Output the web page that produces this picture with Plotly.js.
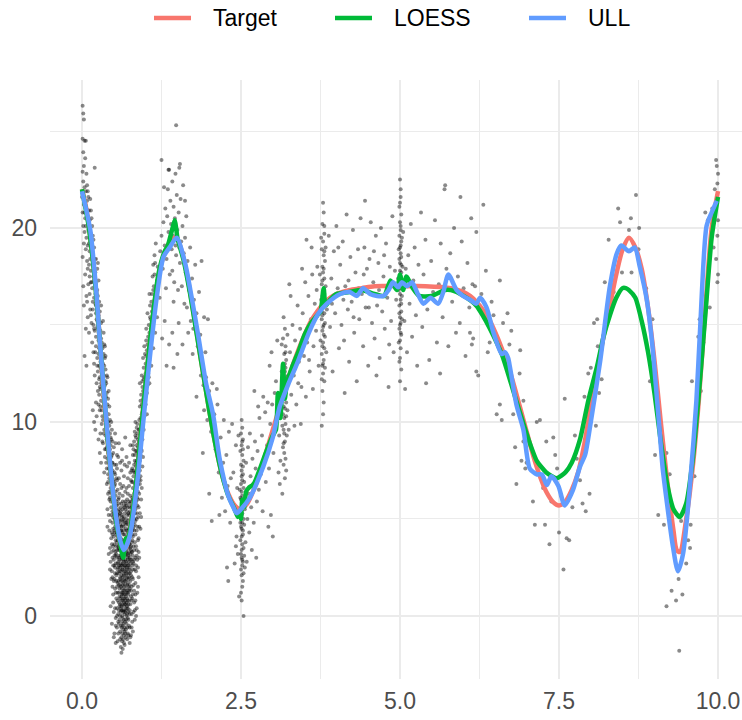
<!DOCTYPE html>
<html>
<head>
<meta charset="utf-8">
<script src="https://cdn.plot.ly/plotly-3.0.1.min.js"></script>
<style>html,body{margin:0;padding:0;background:#fff;}#chart{width:742px;height:720px;}</style>
</head>
<body>
<div id="chart"></div>
<script>
// ---- series names ----
const seriesNames = ["Target", "LOESS", "ULL"];

// ---- Target curve ----
const targetX = [0,0.05,0.1,0.15,0.2,0.25,0.3,0.35,0.4,0.45,0.5,0.55,0.6,0.65,0.7,0.75,0.8,0.85,0.9,0.95,1.0,1.05,1.1,1.15,1.2,1.25,1.3,1.35,1.4,1.45,1.5,1.55,1.6,1.65,1.7,1.75,1.8,1.85,1.9,1.95,2.0,
2.1,2.2,2.3,2.4,2.5,2.6,2.7,2.8,2.9,3.0,3.1,3.2,3.3,3.4,3.5,3.6,3.7,3.8,3.9,4.0,
4.2,4.4,4.6,5.0,5.4,5.8,
6.0,6.1,6.2,6.3,6.4,6.5,6.6,6.7,6.8,6.9,7.0,7.1,7.2,7.3,7.4,7.5,7.6,7.7,7.8,7.9,8.0,8.1,8.2,8.3,8.4,8.5,8.6,8.7,8.8,8.9,9.0,9.1,9.2,9.3,9.35,9.4,9.5,9.6,9.7,9.8,9.9,10.0];
const targetY = [22.0,21.3,20.3,19.0,17.5,15.6,13.3,11.0,9.1,7.4,5.9,4.7,3.8,3.4,3.6,4.3,5.4,6.8,8.5,10.3,12.0,13.6,15.0,16.3,17.4,18.2,18.7,19.1,19.4,19.5,19.4,19.0,18.4,17.6,16.7,15.7,14.7,13.6,12.6,11.6,10.6,
8.8,7.3,6.3,5.7,5.5,5.8,6.5,7.4,8.5,9.6,10.7,11.8,12.8,13.7,14.5,15.2,15.7,16.1,16.4,16.6,
16.8,16.9,17.0,17.0,17.0,16.9,
16.7,16.5,16.2,15.8,15.3,14.6,13.8,12.9,11.8,10.6,9.4,8.2,7.2,6.4,5.9,5.7,5.9,6.5,7.4,8.9,10.8,12.6,14.4,16.0,17.6,18.9,19.5,19.0,17.9,15.9,13.2,10.0,7.0,4.4,3.4,3.3,5.0,7.6,11.2,15.8,20.0,21.9];

// ---- LOESS curve ----
const loessX = [0,0.1,0.2,0.3,0.4,0.5,0.55,0.6,0.63,0.65,0.67,0.69,0.72,0.75,0.8,0.85,0.9,1.0,1.1,1.2,1.25,1.3,1.35,1.4,1.44,1.46,1.48,1.5,1.55,1.6,1.7,1.8,1.9,2.0,2.1,2.2,2.3,2.4,2.45,2.48,2.5,2.52,2.55,2.58,2.62,2.7,2.8,2.9,3.0,3.05,3.08,3.12,3.16,3.19,3.22,3.3,3.4,3.5,3.6,3.7,3.75,3.8,3.83,3.9,4.0,4.2,4.4,4.6,4.75,4.85,4.95,5.0,5.05,5.1,5.2,5.3,5.5,5.7,5.8,6.0,6.2,6.3,6.4,6.6,6.8,7.0,7.15,7.3,7.46,7.6,7.7,7.83,7.96,8.1,8.2,8.3,8.4,8.5,8.55,8.6,8.7,8.8,8.9,9.0,9.1,9.2,9.3,9.4,9.5,9.6,9.7,9.8,9.9,10.0];
const loessY = [22.0,20.2,17.4,13.4,9.2,5.9,4.6,3.8,3.2,3.0,3.6,4.0,4.0,4.3,5.4,6.8,8.5,12.0,15.1,17.6,18.3,18.8,19.1,19.7,20.2,20.4,20.0,19.5,18.9,18.3,16.6,14.6,12.6,10.6,8.8,7.3,6.2,5.5,5.1,5.3,5.0,6.0,5.6,6.4,6.6,6.8,7.6,8.5,9.3,9.6,11.5,10.2,13.0,11.2,12.0,12.8,13.6,14.5,15.1,15.5,15.7,16.9,16.0,16.3,16.6,16.7,16.8,16.6,16.5,17.3,16.8,17.6,16.8,17.5,16.9,16.5,16.5,16.8,16.8,16.5,16.0,15.5,14.9,13.5,11.4,9.3,8.0,7.4,7.1,7.4,7.9,9.1,11.1,12.9,14.4,15.5,16.4,16.9,16.9,16.8,16.4,15.2,13.6,11.5,9.0,6.8,5.5,5.1,5.8,8.0,11.5,15.5,19.5,21.6];

// ---- ULL curve ----
const ullX = [0,0.13,0.23,0.28,0.39,0.49,0.6,0.66,0.75,0.86,0.96,1.04,1.17,1.28,1.38,1.49,1.62,1.72,1.83,1.95,2.06,2.17,2.3,2.38,2.43,2.5,2.64,2.85,3.0,3.11,3.25,3.38,3.58,3.72,3.85,4.06,4.21,4.32,4.42,4.53,4.64,4.74,4.82,4.89,4.97,5.03,5.11,5.19,5.28,5.37,5.48,5.6,5.68,5.76,5.89,5.99,6.1,6.2,6.26,6.36,6.47,6.6,6.65,6.7,6.73,6.83,6.94,7.04,7.15,7.23,7.31,7.38,7.49,7.59,7.72,7.83,7.91,7.99,8.15,8.3,8.41,8.48,8.6,8.69,8.77,8.88,8.96,9.03,9.09,9.13,9.19,9.29,9.37,9.45,9.56,9.66,9.72,9.82,9.9,9.98];
const ullY = [21.9,19.9,16.5,14.2,9.8,6.3,3.9,3.4,4.1,6.6,9.9,12.5,16.3,18.5,19.0,19.5,18.2,16.5,14.4,12.0,10.4,8.0,6.2,5.6,5.3,5.5,6.1,7.7,9.2,10.8,12.0,13.0,14.7,15.6,16.1,16.6,16.7,16.5,16.9,16.6,16.5,16.5,16.8,17.2,16.95,17.2,17.0,17.2,16.6,16.1,16.4,16.1,16.7,17.6,16.8,16.5,16.3,16.1,16.4,15.9,14.6,13.5,13.6,13.3,12.8,10.9,9.6,7.6,7.3,7.3,6.75,7.2,6.7,5.7,6.5,7.7,8.3,9.8,13.2,17.0,18.7,19.1,18.8,19.0,18.0,16.3,14.2,11.6,9.2,7.6,6.0,3.6,2.3,3.2,6.8,11.1,14.9,20.1,20.8,21.4];

// ---- observed points, by region: [x, y] ----
const pointsStart = [[0.01,26.3],[0.02,25.9],[0.03,25.6],[0.01,24.6],[0.04,24.5],[0.06,24.5],[0.02,23.9],[0.05,23.6],[0.03,23.2],[0.01,22.9],[0.07,22.8],[0.02,22.4],[0.04,22.1],[0.00,21.6],[0.06,21.9],[0.03,21.2],[0.08,21.4],[0.01,20.8],[0.05,20.5],[0.02,20.1],[0.09,20.6],[0.04,19.8],[0.07,19.5],[0.03,19.2],[0.10,19.9],[0.06,18.9],[0.01,18.5],[0.08,18.3],[0.11,19.2],[0.12,18.8],[0.05,17.6],[0.09,17.9],[0.13,18.4],[0.02,17.0],[0.14,17.8],[0.10,17.1],[0.07,16.5],[0.15,17.2],[0.12,16.6],[0.03,16.0],[0.16,16.9],[0.18,17.5],[0.13,15.8],[0.17,16.2],[0.09,15.4],[0.19,16.4],[0.20,17.0],[0.15,15.1],[0.21,16.1],[0.11,14.6],[0.18,15.0],[0.22,15.6],[0.23,16.3],[0.20,14.7],[0.24,15.2],[0.16,14.1],[0.22,14.4],[0.25,14.8],[0.21,13.6],[0.26,14.2],[0.27,15.0],[0.24,13.3],[0.28,13.8],[0.19,13.0],[0.25,12.6],[0.29,13.1],[0.30,14.3],[0.27,12.2],[0.23,12.0],[0.31,12.7],[0.28,11.8],[0.32,12.1],[0.06,14.8],[0.04,13.4],[0.08,22.2],[0.13,21.5],[0.20,23.1],[0.12,20.4],[0.17,19.6],[0.22,18.4],[0.26,17.3],[0.07,12.9],
[0.24,14.9],[0.27,14.5],[0.30,15.1],[0.22,16.0],[0.25,16.5],[0.28,15.7],[0.18,18.0],[0.21,17.7],[0.24,17.9],[0.16,18.6],[0.19,19.0],[0.14,19.7],[0.11,20.9],[0.15,20.5],[0.09,21.9],
[0.17,10.6],[0.19,10.0],[0.21,9.6],[0.23,10.3],[0.26,9.1],[0.28,8.4],[0.30,7.9],
[0.38,8.6],[0.35,9.6],[0.40,9.4],[0.37,10.5],[0.41,10.0],[0.34,11.0],[0.38,11.3],[0.42,11.6],[0.32,10.3],[0.36,11.9],[0.40,12.3],[0.30,12.0],[0.33,12.2],[0.37,12.1],[0.29,12.8],[0.32,13.3],[0.36,13.9],[0.27,13.8],[0.30,13.9],[0.34,13.5],[0.26,14.6],[0.29,14.7],[0.33,15.2],[0.23,15.3],[0.26,15.5],[0.30,16.0],[0.21,16.6],[0.24,16.8],[0.27,16.2],[0.19,17.3],[0.22,17.0],[0.25,18.2],[0.17,18.1],[0.20,18.4],[0.15,19.0],[0.18,19.4],[0.13,19.3],[0.16,20.1],[0.11,20.3],[0.14,20.9],[0.08,20.9],[0.10,21.6],[0.05,21.4],[0.07,21.0],[0.04,20.8],[0.06,20.1],[0.09,19.1],[0.11,18.1],[0.14,17.2],[0.17,15.8],[0.19,14.8],[0.22,13.9],[0.24,12.9],[0.27,11.4],[0.29,10.8],[0.31,9.9],[0.34,9.4],[0.36,8.2],[0.39,7.6],[0.41,6.9],[0.43,6.0],[0.12,17.5],[0.08,16.2],[0.14,15.5],[0.18,13.6],[0.20,12.4],[0.26,10.9],[0.32,9.0],[0.35,7.4]];

const pointsValley = [[0.62,-1.9],[0.64,-1.7],[0.66,-1.4],[0.60,-1.2],[0.69,-1.1],[0.63,-0.9],[0.67,-0.8],[0.71,-0.6],[0.61,-0.5],[0.65,-0.4],[0.68,-0.3],[0.59,-0.2],[0.73,-0.2],[0.64,-0.1],[0.70,0.0],[0.62,-0.6],[0.66,-1.0],[0.69,-0.2],[0.74,-0.5],[0.60,-0.8],[0.67,-1.5],[0.63,-1.3],[0.72,-0.9],[0.65,-0.7],[0.58,-0.4],
[0.57,0.1],[0.61,0.2],[0.64,0.3],[0.68,0.2],[0.72,0.4],[0.75,0.3],[0.59,0.5],[0.63,0.6],[0.66,0.5],[0.70,0.7],[0.74,0.8],[0.56,0.8],[0.60,0.9],[0.65,0.9],[0.69,1.0],[0.73,1.1],[0.77,1.0],[0.58,1.2],[0.62,1.2],[0.67,1.3],[0.71,1.3],[0.75,1.4],[0.55,1.5],[0.61,1.5],[0.64,1.6],[0.68,1.6],[0.72,1.7],[0.76,1.8],[0.57,1.8],[0.60,1.9],[0.66,1.9],[0.70,1.9],[0.74,2.0],[0.63,0.0],[0.67,0.1],[0.71,0.1],[0.62,0.8],[0.66,1.1],[0.69,1.4],[0.73,0.6],[0.59,1.4],[0.65,1.7],[0.70,0.4],[0.64,1.2],[0.68,0.8],[0.61,0.4],[0.75,1.6],[0.58,0.7],[0.63,1.8],[0.72,1.2],[0.67,0.6],[0.56,1.2],[0.78,1.5],[0.60,1.6],[0.69,1.8],[0.65,0.2],[0.71,0.9],[0.62,1.0],[0.74,1.3],[0.66,1.5],
[0.54,2.1],[0.58,2.2],[0.62,2.1],[0.65,2.2],[0.69,2.1],[0.73,2.2],[0.77,2.3],[0.56,2.4],[0.60,2.5],[0.64,2.4],[0.67,2.5],[0.71,2.4],[0.75,2.5],[0.79,2.6],[0.53,2.7],[0.57,2.8],[0.61,2.7],[0.66,2.8],[0.70,2.7],[0.74,2.8],[0.78,2.9],[0.55,3.0],[0.59,3.1],[0.63,3.0],[0.68,3.1],[0.72,3.0],[0.76,3.2],[0.80,3.1],[0.52,3.3],[0.57,3.4],[0.62,3.3],[0.65,3.5],[0.69,3.4],[0.73,3.5],[0.77,3.4],[0.54,3.6],[0.59,3.7],[0.64,3.8],[0.67,3.7],[0.71,3.8],[0.75,3.7],[0.79,3.9],[0.56,3.9],[0.61,4.0],[0.70,4.0],[0.74,4.0],[0.81,3.6],[0.58,2.6],[0.63,2.6],[0.68,2.9],[0.72,2.6],[0.60,3.4],[0.66,3.2],[0.70,3.3],[0.74,3.3],[0.62,3.6],[0.76,2.7],[0.55,3.8],[0.65,2.9],[0.69,2.3],[0.59,2.9],[0.71,3.6],[0.64,3.2],[0.73,3.9],[0.77,3.6],[0.53,3.1],[0.67,2.3],[0.61,2.3],[0.75,3.0],[0.57,2.5],[0.78,3.3],[0.63,3.9],[0.68,3.6],[0.72,2.9],[0.66,2.6],[0.60,2.0],[0.70,2.5],[0.74,2.4],[0.58,3.5],[0.64,2.7],
[0.50,4.1],[0.54,4.2],[0.58,4.1],[0.63,4.3],[0.67,4.2],[0.71,4.1],[0.75,4.3],[0.79,4.2],[0.82,4.4],[0.49,4.5],[0.52,4.6],[0.56,4.5],[0.60,4.7],[0.65,4.6],[0.69,4.5],[0.73,4.7],[0.77,4.6],[0.80,4.8],[0.84,4.9],[0.51,5.0],[0.55,5.1],[0.59,5.0],[0.62,5.2],[0.66,5.1],[0.70,5.0],[0.74,5.2],[0.78,5.1],[0.81,5.3],[0.48,5.4],[0.53,5.5],[0.57,5.4],[0.61,5.6],[0.68,5.5],[0.72,5.6],[0.76,5.4],[0.79,5.7],[0.83,5.6],[0.50,5.8],[0.54,5.9],[0.58,5.8],[0.64,5.9],[0.71,6.0],[0.75,5.8],[0.80,6.0],[0.85,5.9],[0.52,4.3],[0.57,4.8],[0.61,4.4],[0.66,4.9],[0.70,4.4],[0.74,4.5],[0.78,4.8],[0.82,5.0],[0.55,5.7],[0.60,5.3],[0.64,5.5],[0.69,5.8],[0.73,5.3],[0.77,5.9],[0.81,4.6],[0.53,4.9],[0.59,4.4],[0.63,4.9],[0.67,5.6],[0.72,4.9],[0.76,5.0],[0.79,4.4],[0.83,5.3],[0.56,5.2],[0.62,4.6],[0.68,4.8],[0.75,4.1],[0.80,5.5],[0.51,5.6],[0.58,5.5],[0.65,4.2],[0.71,5.4],[0.77,5.3],[0.84,5.5],[0.49,5.1],
[0.47,2.3],[0.49,1.1],[0.50,3.4],[0.46,4.0],[0.52,0.4],[0.51,2.6],[0.48,3.0],[0.83,2.4],[0.85,3.6],[0.82,1.3],[0.86,4.4],[0.84,0.8],[0.88,5.1],[0.87,2.9],[0.81,0.2],[0.79,-0.3],[0.55,-0.6],[0.53,-0.1],[0.77,-1.0],[0.90,4.6],[0.45,2.8],[0.44,4.9],[0.89,3.3],[0.80,1.9],[0.54,1.8]];

const pointsValleyCore = [[0.61,-1.6],[0.65,-1.2],[0.68,-0.9],[0.63,-0.3],[0.66,-0.2],[0.70,-0.4],[0.60,0.0],[0.72,-0.1],[0.64,-0.5],[0.67,-0.6],[0.62,-1.1],[0.69,-0.7],[0.57,-0.3],[0.75,-0.6],[0.71,-1.2],
[0.58,0.3],[0.62,0.5],[0.66,0.3],[0.69,0.6],[0.73,0.2],[0.76,0.6],[0.55,0.4],[0.59,1.0],[0.63,1.4],[0.67,0.9],[0.71,1.6],[0.74,1.9],[0.78,0.8],[0.56,1.7],[0.61,1.8],[0.65,1.3],[0.68,1.1],[0.72,0.8],[0.77,1.3],[0.80,1.1],[0.53,1.2],[0.60,0.6],[0.64,0.8],[0.70,1.2],[0.75,0.1],[0.63,1.1],[0.66,0.7],[0.58,1.6],[0.69,0.3],[0.73,1.5],[0.51,1.9],[0.79,2.0],[0.62,0.3],[0.67,1.8],[0.71,0.5],
[0.52,2.5],[0.55,2.2],[0.59,2.3],[0.63,2.4],[0.66,2.1],[0.70,2.2],[0.73,2.6],[0.77,2.1],[0.81,2.7],[0.84,3.0],[0.50,2.9],[0.54,3.2],[0.58,3.0],[0.61,3.1],[0.65,3.3],[0.69,2.8],[0.72,3.2],[0.76,3.5],[0.79,3.3],[0.83,3.8],[0.49,3.6],[0.53,3.9],[0.57,3.6],[0.60,3.8],[0.64,3.5],[0.67,3.9],[0.70,3.6],[0.74,3.7],[0.78,3.8],[0.82,3.4],[0.86,3.1],[0.48,2.0],[0.56,2.7],[0.62,2.9],[0.68,2.6],[0.71,2.0],[0.75,2.2],[0.80,2.4],[0.58,3.9],[0.66,3.7],[0.73,3.1],[0.61,2.6],[0.64,2.0],[0.69,3.2],[0.76,2.9],[0.55,3.4],[0.85,2.6],[0.46,3.3],[0.88,3.9],[0.51,3.7],
[0.47,4.3],[0.51,4.4],[0.55,4.3],[0.59,4.6],[0.62,4.4],[0.66,4.4],[0.69,4.7],[0.72,4.3],[0.76,4.6],[0.80,4.5],[0.84,4.2],[0.87,4.6],[0.46,5.2],[0.50,5.3],[0.54,5.2],[0.58,5.2],[0.63,5.1],[0.67,5.3],[0.71,5.2],[0.75,5.6],[0.79,5.3],[0.82,5.5],[0.86,5.3],[0.89,5.6],[0.45,5.9],[0.49,5.9],[0.53,5.7],[0.57,6.0],[0.62,5.8],[0.66,5.7],[0.70,5.7],[0.74,5.9],[0.78,5.6],[0.81,5.9],[0.84,5.8],[0.88,6.0],[0.52,5.0],[0.56,4.1],[0.60,4.9],[0.64,4.7],[0.68,5.9],[0.73,4.4],[0.77,4.9],[0.83,4.7],[0.86,5.0],[0.48,4.8],[0.61,5.4],[0.65,5.0],[0.70,4.8],[0.80,4.1],
[0.43,6.4],[0.46,6.9],[0.49,6.5],[0.52,6.8],[0.55,7.0],[0.59,6.3],[0.65,6.7],[0.70,6.6],[0.76,6.2],[0.80,6.9],[0.83,6.2],[0.85,6.6],[0.88,6.8],[0.90,6.3],[0.42,7.9],[0.45,7.3],[0.48,7.9],[0.51,7.4],[0.54,7.8],[0.57,8.2],[0.62,7.5],[0.74,7.9],[0.78,7.5],[0.82,7.4],[0.85,7.9],[0.87,7.6],[0.91,7.5],[0.41,8.4],[0.44,8.6],[0.47,8.3],[0.50,8.7],[0.53,8.9],[0.80,8.8],[0.83,8.3],[0.86,8.5],[0.88,8.7],[0.92,8.9],[0.40,9.2],[0.43,9.0],[0.46,9.1],[0.84,9.3],[0.87,9.4],[0.90,9.0],[0.93,9.2],[0.58,6.1],[0.67,7.8],[0.72,7.1],[0.63,8.0]];

const pointsValleyEdges = [[0.45,0.5],[0.47,-0.4],[0.48,1.5],[0.50,0.2],[0.51,-0.9],[0.49,2.6],[0.46,1.9],[0.52,1.4],[0.53,-0.5],[0.50,-1.1],[0.54,0.9],[0.52,2.2],[0.47,3.7],[0.49,0.7],[0.44,2.4],[0.56,-1.3],[0.55,0.0],[0.51,3.1],[0.48,4.2],[0.46,5.6],[0.44,3.5],[0.50,1.8],[0.53,-1.4],[0.57,-0.9],
[0.78,0.1],[0.80,-0.8],[0.82,0.7],[0.84,1.7],[0.86,0.4],[0.83,-0.2],[0.85,2.3],[0.87,1.2],[0.88,2.5],[0.81,1.6],[0.79,0.9],[0.89,4.0],[0.90,3.0],[0.86,3.4],[0.76,-1.1],[0.78,-0.6],[0.91,5.3],[0.87,5.7],[0.84,1.1],[0.82,2.9],[0.80,2.8],[0.83,0.3],[0.89,2.0],[0.92,4.5],[0.88,1.5],[0.75,-1.4],[0.73,-1.0],[0.85,0.0],
[0.42,5.2],[0.43,4.4],[0.41,6.3],[0.40,5.5],[0.42,3.2],[0.93,6.0],[0.92,7.0],[0.94,6.6],[0.95,7.7],[0.91,6.8],[0.39,6.8],[0.38,7.9],[0.94,8.5],[0.96,8.2],[0.40,4.6],[0.93,5.1]];

const pointsArms = [[0.44,6.1],[0.47,6.3],[0.50,6.2],[0.53,6.4],[0.79,6.1],[0.82,6.3],[0.85,6.2],[0.88,6.4],[0.45,6.6],[0.48,6.8],[0.51,6.7],[0.56,6.5],[0.62,6.6],[0.68,6.4],[0.74,6.7],[0.80,6.6],[0.83,6.8],[0.86,6.9],[0.43,7.1],[0.46,7.2],[0.49,7.0],[0.52,7.3],[0.58,7.1],[0.66,7.2],[0.77,7.0],[0.81,7.2],[0.84,7.4],[0.87,7.3],[0.89,7.1],[0.42,7.6],[0.45,7.7],[0.48,7.5],[0.51,7.8],[0.55,7.6],[0.71,7.7],[0.79,7.6],[0.82,7.8],[0.85,7.7],[0.88,7.9],[0.44,8.0],[0.47,7.9],[0.60,7.9],[0.83,8.0],[0.86,8.0],[0.90,7.8],[0.46,6.4],[0.50,6.9],[0.54,7.1],[0.64,6.2],[0.72,6.3],[0.78,6.9],[0.84,6.5],[0.87,6.7],[0.41,7.3],[0.47,7.4],[0.53,6.2],[0.81,7.5],[0.86,7.5],[0.60,6.8],[0.76,7.4],
[0.40,8.1],[0.43,8.3],[0.46,8.2],[0.49,8.4],[0.55,8.3],[0.63,8.6],[0.70,8.2],[0.80,8.3],[0.84,8.5],[0.87,8.4],[0.90,8.6],[0.92,8.3],[0.39,8.7],[0.42,8.9],[0.45,8.8],[0.48,9.0],[0.58,8.9],[0.68,9.2],[0.76,8.8],[0.82,9.0],[0.85,9.2],[0.88,9.1],[0.91,9.3],[0.37,9.3],[0.41,9.5],[0.44,9.4],[0.47,9.6],[0.52,9.4],[0.83,9.5],[0.86,9.7],[0.89,9.6],[0.93,9.8],[0.38,9.9],[0.40,10.0],[0.43,9.8],[0.46,10.0],[0.84,10.0],[0.87,9.9],[0.90,10.1],[0.94,9.5],[0.36,8.6],[0.42,8.5],[0.45,9.2],[0.86,8.8],[0.89,8.9],[0.92,8.8],[0.39,9.1],[0.81,8.6],[0.33,8.9],[0.29,9.4],
[0.33,10.1],[0.36,10.3],[0.39,10.2],[0.42,10.4],[0.31,10.6],[0.34,10.8],[0.37,10.7],[0.40,10.9],[0.30,11.1],[0.33,11.3],[0.36,11.2],[0.39,11.5],[0.29,11.7],[0.32,11.9],[0.35,11.8],[0.38,12.0],[0.28,12.3],[0.31,12.5],[0.34,12.4],[0.37,12.7],[0.27,12.9],[0.30,13.1],[0.33,13.0],[0.36,13.3],[0.26,13.5],[0.29,13.6],[0.32,13.8],[0.35,14.0],[0.38,10.5],[0.41,11.2],[0.43,10.8],[0.35,12.9],[0.25,11.6],[0.22,11.0],[0.39,12.4],[0.28,10.6],[0.44,10.1],[0.31,14.1],[0.34,14.6],[0.37,13.4],
[0.92,10.2],[0.95,10.5],[0.98,10.3],[0.94,10.9],[0.97,11.1],[1.00,10.9],[0.93,11.4],[0.96,11.6],[0.99,11.8],[1.02,11.5],[0.95,12.1],[0.98,12.3],[1.01,12.2],[1.04,12.5],[0.97,12.8],[1.00,13.0],[1.03,12.9],[1.06,13.2],[0.99,13.5],[1.02,13.7],[1.05,13.6],[1.08,13.9],[1.01,14.2],[1.04,14.4],[1.07,14.3],[1.10,14.6],[0.96,10.0],[1.00,11.4],[1.03,11.9],[0.94,12.4],[1.06,12.0],[0.91,10.8],[1.09,12.9],[0.98,13.9],[1.05,15.0],[1.08,15.3],[1.11,15.1],[1.03,15.6],[1.12,15.9],[1.14,16.3],[1.07,16.0],[1.10,16.6],[1.13,17.0],[1.16,16.8],[1.18,17.3],[0.97,9.6],[1.02,10.4],[0.93,9.4],[1.12,13.8],[1.15,14.6],
[0.87,6.1],[0.89,7.0],[0.91,8.0],[0.93,8.6],[0.90,9.6],[0.94,10.4],[0.92,11.1],[0.96,11.2],[0.95,9.1],[0.98,10.9],[0.97,12.2],[1.00,12.5],[0.99,11.0],[1.02,12.9],[1.01,13.4],[1.04,13.0],[1.03,14.0],[1.06,14.6],[1.05,12.3],[1.08,14.8],[1.07,15.4],[1.10,15.7],[1.09,16.2],[1.12,16.8],[1.11,17.5],[1.14,17.6],[0.88,8.2],[0.95,11.8],[1.01,14.8],[1.06,16.6],[0.92,7.2],[0.96,13.3],[1.15,18.2],[1.13,15.3],[0.91,12.0]];

const pointsPeak = [[1.12,18.1],[1.14,18.6],[1.16,19.2],[1.19,18.0],[1.21,17.6],[1.23,18.8],[1.25,19.6],[1.27,17.9],[1.28,20.3],[1.30,19.1],[1.31,21.0],[1.33,18.4],[1.34,20.6],[1.35,22.0],[1.36,19.8],[1.37,23.0],[1.38,17.6],[1.39,21.4],[1.40,20.2],[1.41,18.9],[1.42,22.4],[1.43,19.6],[1.44,21.1],[1.45,17.2],[1.46,20.5],[1.47,22.8],[1.48,18.6],[1.48,25.3],[1.49,21.7],[1.50,19.9],[1.51,16.8],[1.52,20.8],[1.53,23.1],[1.54,18.2],[1.55,21.5],[1.56,19.3],[1.57,17.0],[1.58,20.1],[1.59,22.2],[1.60,18.7],[1.61,16.1],[1.62,19.5],[1.63,17.7],[1.64,20.6],[1.65,15.9],[1.66,18.3],[1.68,16.8],[1.70,19.0],[1.71,15.2],[1.73,17.4],[1.75,14.8],[1.76,16.3],[1.78,18.1],[1.80,15.6],[1.82,13.9],[1.84,16.7],[1.86,14.5],[1.88,18.3],[1.90,12.9],[1.92,15.4],[1.94,13.6],[1.96,11.8],[1.98,15.3],[1.25,23.5],[1.36,23.0],[1.54,23.3],[1.32,16.9],[1.44,16.2],[1.52,15.1],[1.58,14.0],[1.47,19.1],[1.39,19.3],[1.53,19.0],[1.42,17.8],[1.62,21.4],[1.67,14.6],[1.74,13.5],[1.29,22.1],[1.18,15.4],[1.22,16.4],
[1.33,12.9],[1.42,14.6],[1.44,12.8],[1.80,11.3],[1.37,14.0],[1.30,15.2],[1.50,13.5],[1.26,14.3],
[1.87,12.4],[1.91,11.9],[1.95,12.3],[2.00,11.6],[2.05,12.0],[2.12,11.7],[1.92,10.6],[1.97,10.1],[2.03,9.5],[2.08,10.4],[1.90,8.4],[2.00,6.3],[2.04,4.9],[2.10,8.6],[2.15,7.4],[2.18,9.2],[2.20,6.1],[2.22,7.9],[2.25,5.4],[2.27,8.3],[2.29,6.7],[2.31,9.5],[2.33,4.8],[2.34,7.1],[2.28,2.5],[2.30,1.8],[2.13,10.9],[2.23,10.1],[2.36,9.9],[2.16,5.2]];

const pointsMiddle = [[2.51,10.1],[2.52,9.7],[2.50,9.4],[2.53,9.1],[2.51,8.8],[2.49,8.5],[2.52,8.3],[2.54,8.0],[2.50,7.8],[2.51,7.5],[2.53,7.3],[2.52,7.0],[2.50,6.8],[2.54,6.6],[2.51,6.4],[2.49,6.1],[2.53,5.9],[2.52,5.7],[2.50,5.5],[2.51,5.2],[2.54,5.0],[2.52,4.8],[2.50,4.6],[2.53,4.4],[2.51,4.1],[2.49,3.9],[2.52,3.7],[2.54,3.5],[2.50,3.2],[2.51,3.0],[2.53,2.8],[2.52,2.6],[2.50,2.4],[2.51,2.1],[2.53,1.8],[2.52,1.5],[2.50,1.2],[2.54,0.0],[2.51,0.8],[2.52,9.0],[2.53,8.6],[2.51,7.2],[2.52,6.2],[2.50,5.0],[2.53,4.2],[2.51,3.4],[2.52,2.9],[2.54,2.2],[2.50,6.0],[2.51,4.5],[2.53,7.7],[2.52,5.3],[2.55,3.1],[2.55,6.9],[2.49,4.8],[2.56,5.5],[2.55,4.7],[2.48,6.5],[2.56,2.5],[2.57,3.8],
[2.38,7.4],[2.40,5.6],[2.42,8.8],[2.43,4.1],[2.44,6.6],[2.45,3.2],[2.46,9.3],[2.47,1.0],[2.40,2.7],[2.42,3.6],[2.36,5.9],[2.58,7.9],[2.60,5.0],[2.61,8.7],[2.62,6.3],[2.63,4.3],[2.64,9.4],[2.65,7.2],[2.66,5.6],[2.68,8.1],[2.69,6.8],[2.70,4.8],[2.72,9.0],[2.73,7.6],[2.75,5.9],[2.76,8.5],[2.78,6.5],[2.79,10.2],[2.81,7.3],[2.83,9.3],[2.84,5.4],[2.86,8.0],[2.88,10.5],[2.89,6.9],[2.91,8.8],[2.92,11.0],[2.94,7.6],[2.96,9.9],[2.97,5.2],[2.99,10.9],[3.00,4.1],[3.01,8.4],[3.03,11.5],[2.67,3.4],[2.74,3.0],[2.59,2.8],[2.85,11.3],[2.77,10.8],[2.93,4.6],[2.71,11.6],
[3.17,15.4],[3.19,14.8],[3.16,14.3],[3.20,13.9],[3.18,13.5],[3.21,13.2],[3.17,12.9],[3.19,12.6],[3.22,12.3],[3.16,12.0],[3.18,11.8],[3.20,11.5],[3.17,11.2],[3.21,11.0],[3.19,10.7],[3.16,10.4],[3.18,10.2],[3.20,9.9],[3.17,9.6],[3.22,9.3],[3.19,9.0],[3.16,8.7],[3.18,8.4],[3.20,8.1],[3.17,7.8],[3.21,7.5],[3.19,7.1],[3.18,12.1],[3.20,12.8],[3.17,10.8],[3.19,11.6],[3.21,10.3],[3.18,9.4],[3.16,11.4],[3.20,13.6],[3.22,11.8],[3.15,9.8],[3.23,10.6],[3.19,13.0],[3.17,8.9],[3.14,12.6],[3.13,10.9],[3.12,8.0],[3.11,6.8],[3.24,12.4],[3.25,9.6],[3.14,14.0],[3.10,9.3],[3.12,11.3],[3.23,14.5],[3.15,6.3],[3.09,7.4],
[3.27,13.6],[3.29,11.4],[3.31,15.0],[3.33,12.4],[3.35,14.2],[3.37,10.9],[3.39,16.0],[3.41,13.1],[3.43,14.8],[3.45,11.8],[3.47,15.6],[3.49,13.4],[3.51,17.2],[3.53,19.4],[3.54,14.1],[3.56,16.5],[3.58,12.6],[3.60,15.3],[3.62,17.6],[3.64,13.9],[3.66,16.1],[3.68,14.7],[3.70,18.0],[3.72,12.9],[3.28,16.5],[3.34,9.8],[3.40,12.0],[3.46,17.9],[3.52,11.3],[3.57,13.2],[3.63,11.7],[3.69,16.8],[2.95,12.9],[2.98,13.6],[3.05,12.1],[3.07,14.2],[3.02,9.6],[3.44,9.9],[3.26,17.1],[3.61,19.0],
[3.79,21.3],[3.80,20.8],[3.78,20.2],[3.81,19.7],[3.79,19.3],[3.77,18.9],[3.80,18.6],[3.82,18.3],[3.78,18.0],[3.79,17.7],[3.81,17.4],[3.77,17.1],[3.80,16.8],[3.78,16.5],[3.82,16.2],[3.79,15.9],[3.81,15.6],[3.77,15.3],[3.80,15.0],[3.78,14.7],[3.82,14.4],[3.79,14.1],[3.81,13.8],[3.77,13.5],[3.80,13.2],[3.78,12.9],[3.79,12.5],[3.81,12.1],[3.78,11.6],[3.80,11.0],[3.79,10.4],[3.77,9.8],[3.80,17.9],[3.78,17.3],[3.81,16.6],[3.79,16.0],[3.77,15.7],[3.82,15.1],[3.80,14.5],[3.78,13.9],[3.79,13.0],[3.81,18.8],[3.76,16.3],[3.83,17.0],[3.75,14.2],[3.84,13.6],[3.76,19.5],[3.83,19.0],[3.78,15.5],[3.80,16.4],[3.79,14.9],[3.82,12.8],[3.74,17.6],[3.85,15.8],[3.77,12.2],[3.81,20.1]];

const pointsPlateau = [[3.88,19.6],[3.90,14.9],[3.92,17.4],[3.94,12.6],[3.96,18.8],[3.98,15.6],[4.00,20.1],[4.02,16.9],[4.04,13.8],[4.06,18.1],[4.08,15.0],[4.10,19.3],[4.12,14.2],[4.14,17.0],[4.16,20.7],[4.18,15.8],[4.20,13.1],[4.22,18.5],[4.24,16.2],[4.26,19.9],[4.28,14.6],[4.30,17.7],[4.32,12.1],[4.34,18.9],[4.36,15.3],[4.38,20.5],[4.40,16.6],[4.42,13.9],[4.44,19.0],[4.46,15.9],[4.48,17.9],[4.50,12.9],[4.52,18.4],[4.54,20.3],[4.56,15.1],[4.58,17.2],[4.60,14.3],[4.62,19.6],[4.64,16.0],[4.66,18.2],[4.68,13.3],[4.70,20.0],[4.72,15.7],[4.74,17.5],[4.76,14.8],[4.78,19.2],[4.80,16.4],[4.82,11.8],[4.84,18.0],[4.86,15.2],[4.88,20.6],[4.90,13.6],[4.92,17.8],[4.94,16.3],[3.93,16.1],[4.03,19.0],[4.11,16.3],[4.19,17.3],[4.27,15.4],[4.35,16.9],[4.43,17.6],[4.51,15.9],[4.59,18.8],[4.67,16.8],[4.75,18.6],[4.83,14.0],[4.13,11.5],[4.63,12.4],[4.45,21.4],[4.89,17.1],
[5.00,22.5],[5.01,21.6],[4.99,21.1],[5.02,20.7],[5.00,20.3],[5.01,19.9],[4.99,19.6],[5.02,19.3],[5.00,19.0],[5.01,18.7],[4.99,18.4],[5.02,18.1],[5.00,17.8],[5.01,17.5],[4.99,17.2],[5.02,16.9],[5.00,16.6],[5.01,16.3],[4.99,16.0],[5.02,15.7],[5.00,15.4],[5.01,15.1],[4.99,14.8],[5.02,14.5],[5.00,14.2],[5.01,13.8],[5.00,13.3],[5.02,12.7],[5.01,19.1],[5.00,18.2],[4.99,17.0],[5.02,16.1],[5.00,15.0],[5.01,20.1],[4.99,15.6],[5.02,17.7],[4.98,18.9],[5.03,16.5],[4.98,14.1],[5.03,19.5],[5.00,21.3],[5.01,14.6],[4.99,13.1],[5.02,18.5],[4.98,16.8],[5.03,15.3],[5.00,12.1],[5.01,22.0],[4.97,17.4],[5.04,18.0],
[5.05,19.8],[5.07,15.2],[5.09,17.9],[5.11,13.6],[5.13,18.6],[5.15,16.1],[5.17,20.2],[5.19,14.4],[5.21,17.3],[5.23,19.0],[5.25,15.5],[5.27,12.9],[5.29,18.1],[5.31,16.4],[5.33,20.8],[5.35,14.9],[5.37,17.6],[5.40,19.4],[5.43,15.8],[5.46,13.2],[5.49,18.3],[5.52,16.7],[5.55,20.4],[5.58,14.1],[5.61,17.1],[5.64,19.2],[5.67,15.4],[5.70,22.0],[5.73,17.9],[5.76,13.9],[5.79,18.7],[5.82,16.2],[5.85,20.0],[5.88,14.6],[5.91,17.5],[5.94,15.1],[5.97,19.3],[6.00,16.9],[6.03,13.4],[6.06,18.2],[6.09,15.9],[6.12,20.5],[6.15,14.3],[6.18,17.0],[5.71,22.2],[5.63,12.5],[5.41,12.0],[5.08,11.7],[5.95,21.6],[6.20,12.6]];

const pointsEnd = [[6.20,19.8],[6.31,21.2],[6.14,17.1],[6.57,17.3],[6.47,15.5],[6.62,15.1],[6.75,14.7],[6.72,14.0],[6.38,13.6],[6.41,14.1],[6.89,13.7],[6.23,12.4],[6.88,12.5],[6.94,11.1],[6.52,10.4],[6.57,10.9],[6.60,10.1],[6.78,10.4],[6.10,14.6],[6.13,14.0],[6.28,16.6],[6.35,17.8],[6.44,16.2],[6.66,13.1],[6.69,15.6],[6.81,8.7],[6.91,8.0],[6.94,9.0],[6.99,7.9],[6.83,6.8],[6.97,7.6],
[7.09,5.9],[7.12,4.7],[7.28,4.7],[7.35,3.7],[7.38,5.9],[7.41,9.2],[7.44,8.3],[7.47,7.6],[7.50,4.3],[7.57,2.4],[7.62,4.0],[7.66,3.9],[7.71,5.6],[7.75,9.3],[7.78,8.1],[7.83,7.0],[7.87,5.8],[7.92,5.4],[7.98,6.3],[8.08,9.8],[7.15,10.0],[7.20,10.1],[7.30,9.0],[7.59,11.2],[7.90,11.3],[7.96,12.5],[8.00,12.8],[8.13,11.5],[8.17,12.2],[7.53,6.2],[7.25,6.6],
[8.05,15.1],[8.10,15.3],[8.11,13.9],[8.28,19.4],[8.43,21.0],[8.46,20.3],[8.63,20.5],[8.60,19.9],[8.71,21.7],[8.76,20.0],[8.75,18.9],[8.49,17.7],[8.64,17.7],[8.87,16.9],[8.97,15.3],[9.01,12.9],[8.93,12.1],[8.36,16.7],[8.22,17.2],
[9.01,8.3],[9.19,8.4],[9.20,6.5],[9.06,5.2],[9.15,4.7],[9.29,4.4],[9.31,3.5],[9.27,1.3],[9.19,0.5],[9.34,0.8],[9.38,1.9],[9.44,1.1],[9.39,-1.8],[9.42,4.9],[9.57,4.7],[9.53,3.9],[9.56,3.5],[9.50,2.7],[9.63,7.2],[9.65,9.4],[9.67,10.8],[9.64,9.8],[9.59,12.1],[9.73,11.6],[9.77,14.1],[9.69,14.4],[9.71,15.3],[9.87,15.9],[9.80,20.8],[9.84,20.4],[9.86,20.5],[9.99,19.6],[10.00,17.6],[9.99,17.2],[9.98,21.5],[9.99,22.3],[10.00,22.8],[9.98,23.2],[9.97,23.5],[9.95,22.0],[9.91,21.0],[9.93,19.0],[10.00,20.4],[9.97,18.4],[9.24,7.3]];

// ---- axis ticks ----
const xTicks = [0, 2.5, 5, 7.5, 10];
const xTickLabels = ["0.0", "2.5", "5.0", "7.5", "10.0"];
const xMinorTicks = [1.25, 3.75, 6.25, 8.75];
const yTicks = [0, 10, 20];
const yTickLabels = ["0", "10", "20"];
const yMinorTicks = [5, 15, 25];

// ---------------------------------------------------------------
const allPoints = [].concat(pointsStart, pointsValley, pointsValleyCore, pointsValleyEdges, pointsArms, pointsPeak, pointsMiddle, pointsPlateau, pointsEnd);
const colors = {"Target": "#F8766D", "LOESS": "#00BA38", "ULL": "#619CFF"};
const FONT = "'Liberation Sans', Arial, sans-serif";

const traces = [
  {type: "scatter", mode: "markers", x: allPoints.map(p => p[0]), y: allPoints.map(p => p[1]),
   marker: {size: 4, color: "rgba(0,0,0,0.46)", line: {width: 0}}, hoverinfo: "skip", showlegend: false},
  {type: "scatter", mode: "lines", name: seriesNames[0], x: targetX, y: targetY,
   line: {color: colors.Target, width: 4.5, shape: "spline", smoothing: 0.8}, showlegend: false},
  {type: "scatter", mode: "lines", name: seriesNames[1], x: loessX, y: loessY,
   line: {color: colors.LOESS, width: 4.5, shape: "spline", smoothing: 0.6}, showlegend: false},
  {type: "scatter", mode: "lines", name: seriesNames[2], x: ullX, y: ullY,
   line: {color: colors.ULL, width: 4.5, shape: "spline", smoothing: 0.7}, showlegend: false}
];

// legend (drawn as shapes + annotations, ggplot style)
const L = 50, W = 692, T = 80, H = 599;
const px2x = px => (px - L) / W;
const py2y = py => (T + H - py) / H;
const legendItems = [
  {name: seriesNames[0], x0: 154, tx: 211},
  {name: seriesNames[1], x0: 335, tx: 392},
  {name: seriesNames[2], x0: 529, tx: 586}
];
const shapes = legendItems.map(it => ({
  type: "line", xref: "paper", yref: "paper",
  x0: px2x(it.x0), x1: px2x(it.x0 + 37), y0: py2y(18), y1: py2y(18),
  line: {color: colors[it.name], width: 4.5}
}));
const annotations = legendItems.map(it => ({
  xref: "paper", yref: "paper", x: px2x(it.tx), y: py2y(18),
  xanchor: "left", yanchor: "middle", showarrow: false, text: it.name,
  font: {family: FONT, size: 23, color: "#000000"}
}));

const layout = {
  width: 742, height: 720,
  margin: {l: L, r: 0, t: T, b: 720 - T - H, pad: 0},
  paper_bgcolor: "#ffffff", plot_bgcolor: "#ffffff",
  showlegend: false,
  font: {family: FONT},
  xaxis: {
    range: [-0.503, 10.377], tickmode: "array", tickvals: xTicks, ticktext: xTickLabels,
    showgrid: true, gridcolor: "#EBEBEB", gridwidth: 2,
    minor: {tickmode: "array", tickvals: xMinorTicks, showgrid: true, gridcolor: "#EBEBEB", gridwidth: 1, ticks: ""},
    zeroline: false, showline: false, ticks: "", ticklabelstandoff: 6,
    tickfont: {family: FONT, size: 23, color: "#4D4D4D"}
  },
  yaxis: {
    range: [-3.25, 27.63], tickmode: "array", tickvals: yTicks, ticktext: yTickLabels,
    showgrid: true, gridcolor: "#EBEBEB", gridwidth: 2,
    minor: {tickmode: "array", tickvals: yMinorTicks, showgrid: true, gridcolor: "#EBEBEB", gridwidth: 1, ticks: ""},
    zeroline: false, showline: false, ticks: "", ticklabelstandoff: 12,
    tickfont: {family: FONT, size: 23, color: "#4D4D4D"}
  },
  shapes: shapes,
  annotations: annotations
};

Plotly.newPlot("chart", traces, layout, {displayModeBar: false, staticPlot: true});
</script>
</body>
</html>
